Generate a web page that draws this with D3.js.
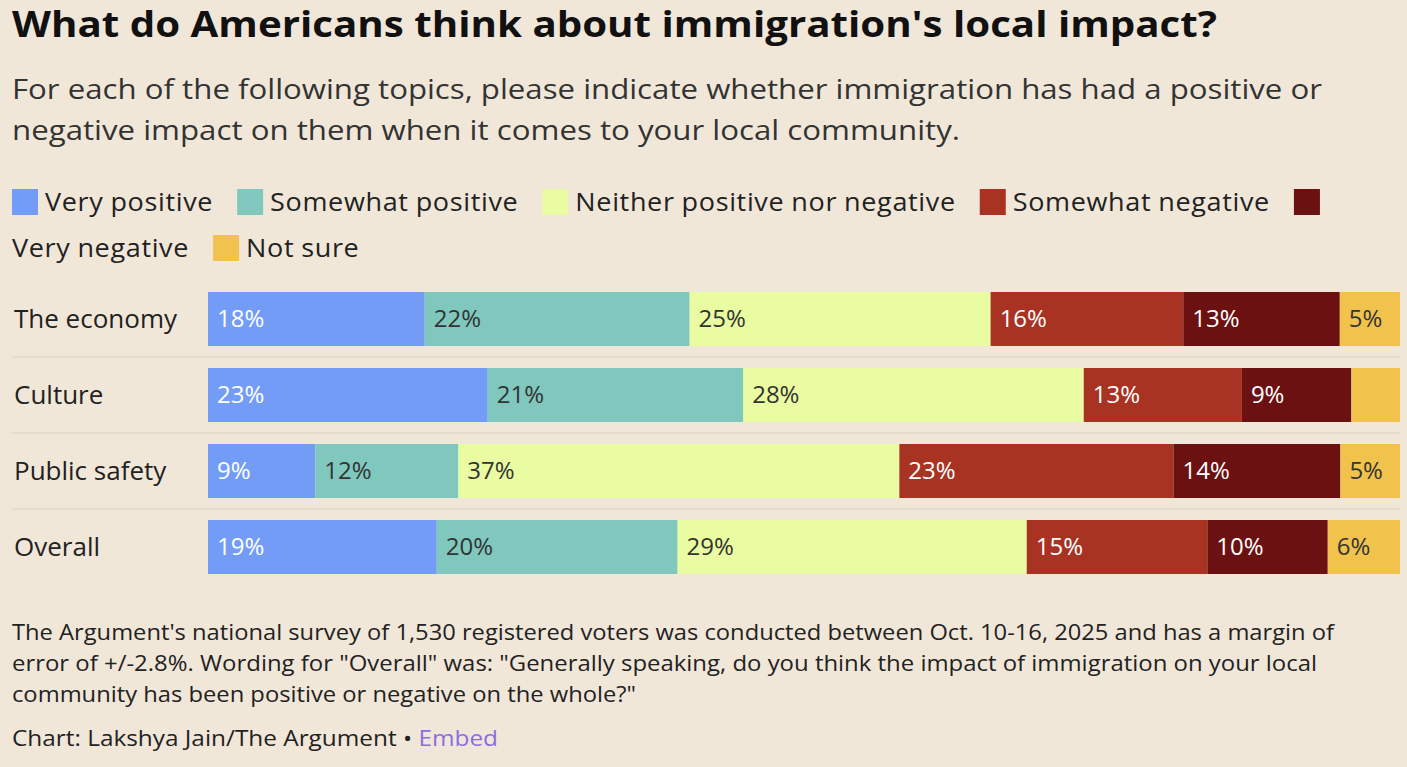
<!DOCTYPE html>
<html><head><meta charset="utf-8">
<script src="https://cdn.jsdelivr.net/npm/d3@7"></script>
<style>
body{margin:0;background:#f1e7d9;font-family:"Open Sans",sans-serif;}
</style></head><body>
<script>
// data
let topics = ['The economy', 'Culture', 'Public safety', 'Overall'];
let categories = ['Very positive', 'Somewhat positive', 'Neither positive nor negative', 'Somewhat negative', 'Very negative', 'Not sure'];
let veryPos = [18, 23, 9, 19];
let somePos = [22, 21, 12, 20];
let neither = [25, 28, 37, 29];
let someNeg = [16, 13, 23, 15];
let veryNeg = [13, 9, 14, 10];
let notSure = [5, 4, 5, 6];
let colors = ['#739cf6', '#80c8be', '#e9fca2', '#a83322', '#6b1111', '#f1c34d'];
let textColors = ['#fff', '#333', '#333', '#fff', '#fff', '#333'];

let series = [veryPos, somePos, neither, someNeg, veryNeg, notSure];

let W = 1407, H = 767;
let svg = d3.select('body').append('svg').attr('width', W).attr('height', H);

svg.append('text').attr('x', 12).attr('y', 37)
    .attr('textLength', 1205).attr('lengthAdjust', 'spacingAndGlyphs')
    .style('font-size', '35px').style('font-weight', 700).style('fill', '#111')
    .text("What do Americans think about immigration's local impact?");

let sub = [['For each of the following topics, please indicate whether immigration has had a positive or', 1310],
           ['negative impact on them when it comes to your local community.', 948]];
sub.forEach((s, i) => {
    svg.append('text').attr('x', 12).attr('y', 99 + i * 41)
        .attr('textLength', s[1]).attr('lengthAdjust', 'spacingAndGlyphs')
        .style('font-size', '27px').style('fill', '#333').text(s[0]);
});

//legend, wrapping words like the original
let lx = 12, ly = 202, legendRight = 1385;
let legend = svg.append('g');
categories.forEach((c, i) => {
    let words = c.split(' ');
    if (lx + 24 > legendRight) { lx = 12; ly += 46; }
    legend.append('rect').attr('x', lx).attr('y', ly - 13).attr('width', 26).attr('height', 26).attr('fill', colors[i]);
    lx += 33;
    words.forEach((w, j) => {
        let t = legend.append('text').attr('x', lx).attr('y', ly + 9)
            .style('font-size', '25px').style('letter-spacing', '0.6px').style('fill', '#222').text(w);
        let len = t.node().getComputedTextLength() * 1.08;
        t.attr('textLength', len).attr('lengthAdjust', 'spacingAndGlyphs');
        if (lx + len > legendRight) { lx = 12; ly += 46; t.attr('x', lx).attr('y', ly + 9); }
        lx += len + (j < words.length - 1 ? 7 : 10);
    });
    lx += 14;
});

let barLeft = 208, barRight = 1400;
let y = d3.scaleBand().domain(topics).range([292, 292 + 76 * 4 - 22]).paddingInner(22 / 76).paddingOuter(0);

topics.forEach((tp, r) => {
    let vals = series.map(s => s[r]);
    let total = d3.sum(vals);
    let x = d3.scaleLinear().domain([0, total]).range([barLeft, barRight]);
    let g = svg.append('g');
    let cum = 0;
    vals.forEach((v, k) => {
        let x0 = x(cum), x1 = x(cum + v);
        g.append('rect').attr('x', x0).attr('y', y(tp)).attr('width', x1 - x0).attr('height', y.bandwidth()).attr('fill', colors[k]);
        if (x1 - x0 > 55) {
            g.append('text').attr('x', x0 + 9).attr('y', y(tp) + y.bandwidth() / 2 + 8)
                .style('font-size', '24px').style('fill', textColors[k]).text(v + '%');
        }
        cum += v;
    });
    svg.append('text').attr('x', 14).attr('y', y(tp) + y.bandwidth() / 2 + 9)
        .style('font-size', '26px').style('fill', '#222').text(tp);
    if (r < topics.length - 1) {
        svg.append('line').attr('x1', 12).attr('x2', barRight)
            .attr('y1', y(tp) + y.bandwidth() + 11).attr('y2', y(tp) + y.bandwidth() + 11)
            .attr('stroke', '#d9d0c4').attr('stroke-width', 1);
    }
});

let notes = [["The Argument's national survey of 1,530 registered voters was conducted between Oct. 10-16, 2025 and has a margin of", 1322],
             ['error of +/-2.8%. Wording for "Overall" was: "Generally speaking, do you think the impact of immigration on your local', 1305],
             ['community has been positive or negative on the whole?"', 624]];
notes.forEach((n, i) => {
    svg.append('text').attr('x', 12).attr('y', 640 + i * 31)
        .attr('textLength', n[1]).attr('lengthAdjust', 'spacingAndGlyphs')
        .style('font-size', '21px').style('fill', '#222').text(n[0]);
});
let cr = svg.append('text').attr('x', 12).attr('y', 746).style('font-size', '21px').style('fill', '#222')
    .attr('textLength', 486).attr('lengthAdjust', 'spacingAndGlyphs');
cr.append('tspan').text('Chart: Lakshya Jain/The Argument • ');
cr.append('tspan').style('fill', '#8a6fe0').text('Embed');
</script>
</body></html>
